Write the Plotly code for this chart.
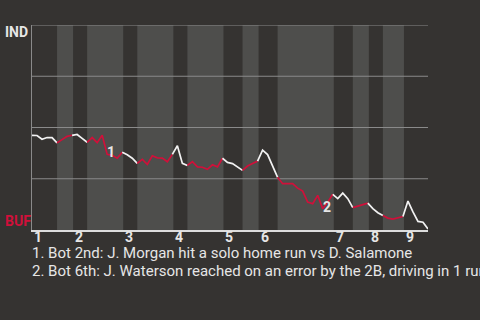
import plotly.graph_objects as go

# ---- data ----
# Win probability for IND (0 = BUF wins, 1 = IND wins) after each plate appearance
win_prob = [0.462, 0.461, 0.443, 0.451, 0.451, 0.425, 0.440, 0.457, 0.462, 0.466,
            0.447, 0.428, 0.451, 0.426, 0.462, 0.369, 0.364, 0.350, 0.379, 0.367,
            0.350, 0.325, 0.345, 0.320, 0.362, 0.352, 0.351, 0.333, 0.369, 0.411,
            0.325, 0.315, 0.333, 0.308, 0.306, 0.296, 0.318, 0.308, 0.350, 0.330,
            0.324, 0.308, 0.291, 0.312, 0.324, 0.336, 0.390, 0.368, 0.311, 0.257,
            0.226, 0.226, 0.226, 0.204, 0.190, 0.136, 0.128, 0.169, 0.104, 0.136,
            0.174, 0.153, 0.180, 0.153, 0.109, 0.116, 0.125, 0.131, 0.104, 0.084,
            0.071, 0.058, 0.053, 0.058, 0.066, 0.141, 0.088, 0.042, 0.038, 0.005]

# half-inning boundaries (in plate-appearance index units): top1, bot1, top2, ...
half_inning_edges = [0, 5, 8.2, 11, 18.2, 21, 28.2, 31, 38.2, 42, 45.2, 49,
                     60.2, 64, 67.2, 70, 74.2, 79]
inning_labels = ["1", "2", "3", "4", "5", "6", "7", "8", "9"]

event_labels = ["1", "2"]
event_index = [15, 58]
event_text = ["1. Bot 2nd: J. Morgan hit a solo home run vs D. Salamone",
              "2. Bot 6th: J. Waterson reached on an error by the 2B, driving in 1 run"]

team_top = "IND"
team_bottom = "BUF"

# ---- style ----
BG = "#353331"
BAND = "#4e4e4c"
GRID = "#8a8a8a"
RED = "#d0103a"
WHITE = "#f2f2f2"
TXT = "#e6e6e6"
FONT = "Roboto"

fig = go.Figure()

shapes = []
for k in range(len(half_inning_edges) - 1):
    if k % 2 == 1:
        shapes.append(dict(type="rect", xref="x", yref="paper",
                           x0=half_inning_edges[k], x1=half_inning_edges[k + 1],
                           y0=0, y1=1, fillcolor=BAND, line=dict(width=0),
                           layer="below"))
for gy in [0.25, 0.5, 0.75, 1.0]:
    shapes.append(dict(type="line", xref="paper", yref="y", x0=0, x1=1,
                       y0=gy, y1=gy, line=dict(color=GRID, width=1.2),
                       layer="below"))


def is_bottom_half(xm):
    for k in range(len(half_inning_edges) - 1):
        if half_inning_edges[k] <= xm < half_inning_edges[k + 1]:
            return k % 2 == 1
    return False


xs = list(range(len(win_prob)))
runs = []
cur = None
for i in range(len(win_prob) - 1):
    red = is_bottom_half(i + 0.5)
    if cur is None or cur[0] != red:
        cur = [red, [i]]
        runs.append(cur)
    cur[1].append(i + 1)

for red, idx in runs:
    fig.add_trace(go.Scatter(
        x=[xs[j] for j in idx], y=[win_prob[j] for j in idx],
        mode="lines", line=dict(color=RED if red else WHITE, width=1.7),
        hoverinfo="skip", showlegend=False))

annotations = []
for n, lab in enumerate(inning_labels):
    annotations.append(dict(x=half_inning_edges[2 * n], y=0, xref="x", yref="paper",
                            text="<b>%s</b>" % lab, showarrow=False,
                            xanchor="left", yanchor="top", xshift=0, yshift=3,
                            font=dict(family=FONT, size=14, color=TXT)))
for lab, ix in zip(event_labels, event_index):
    annotations.append(dict(x=ix, y=win_prob[ix], xref="x", yref="y",
                            text="<b>%s</b>" % lab, showarrow=False,
                            xanchor="center", yanchor="middle", xshift=4, yshift=2,
                            font=dict(family=FONT, size=14, color=TXT)))
for k, t in enumerate(event_text):
    annotations.append(dict(x=0, y=-0.112 - 0.089 * k, xref="paper", yref="paper",
                            text=t, showarrow=False, xanchor="left", yanchor="middle",
                            xshift=-2,
                            font=dict(family=FONT, size=15, color=TXT)))
annotations.append(dict(x=-29 / 396, y=1, xref="paper", yref="paper",
                        text="<b>%s</b>" % team_top, showarrow=False,
                        xanchor="left", yanchor="top", yshift=3,
                        font=dict(family=FONT, size=14, color=TXT)))
annotations.append(dict(x=-29 / 396, y=0, xref="paper", yref="paper",
                        text="<b>%s</b>" % team_bottom, showarrow=False,
                        xanchor="left", yanchor="bottom", yshift=-1,
                        font=dict(family=FONT, size=14, color=RED)))

fig.update_layout(
    width=480, height=320,
    margin=dict(l=32, r=52, t=25, b=90, pad=0),
    paper_bgcolor=BG, plot_bgcolor=BG,
    shapes=shapes, annotations=annotations,
    xaxis=dict(range=[0, 79], showgrid=False, zeroline=False, showticklabels=False,
               ticks="", showline=True, linecolor="#dddddd", linewidth=1.5, fixedrange=True),
    yaxis=dict(range=[0, 1], showgrid=False, zeroline=False, showticklabels=False,
               ticks="", showline=True, linecolor=GRID, linewidth=1.2, fixedrange=True),
    font=dict(family=FONT, color=TXT),
)

fig.write_html("out.html", config={"displayModeBar": False})
